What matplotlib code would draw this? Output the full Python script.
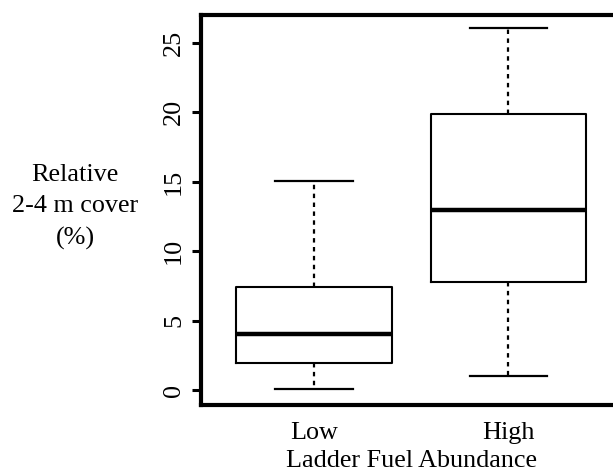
import matplotlib
matplotlib.use("Agg")
import matplotlib.pyplot as plt

categories = ["Low", "High"]
whislo = [0.07, 1.0]
q1 = [1.95, 7.75]
med = [4.0, 12.95]
q3 = [7.45, 19.9]
whishi = [15.05, 26.05]
yticks = [0, 5, 10, 15, 20, 25]

plt.rcParams['font.family'] = ['Liberation Serif', 'DejaVu Serif']

W, H = 613, 472
fig = plt.figure(figsize=(W / 100, H / 100), dpi=100)

# axes placement in pixels
x0p, x1p = 201.0, 621.3
ytop_p, ybot_p = 15.2, 405.3
ax = fig.add_axes([x0p / W, 1 - ybot_p / H, (x1p - x0p) / W, (ybot_p - ytop_p) / H])

stats = []
for i, c in enumerate(categories):
    stats.append(dict(label=c, whislo=whislo[i], q1=q1[i], med=med[i],
                      q3=q3[i], whishi=whishi[i], fliers=[]))

ax.bxp(stats, positions=[1, 2], widths=0.8, showfliers=False,
       boxprops=dict(color='black', linewidth=1.5),
       medianprops=dict(color='black', linewidth=3.2, solid_capstyle='butt'),
       whiskerprops=dict(color='black', linewidth=1.6, linestyle=(0, (2, 2))),
       capprops=dict(color='black', linewidth=1.6),
       capwidths=0.4)

ax.set_xlim(0.42, 2.58)
ax.set_ylim(-1.1, 27.0)

for s in ['left', 'top', 'bottom']:
    ax.spines[s].set_linewidth(3.0)
ax.spines['right'].set_visible(False)

FS = 18.8
ax.set_yticks(yticks)
ax.set_yticklabels([str(t) for t in yticks], rotation=90, va='center', fontsize=FS)
ax.tick_params(axis='y', length=6.5, width=2.2, pad=5)
ax.set_xticks([1, 2])
ax.set_xticklabels(categories, fontsize=FS)
ax.tick_params(axis='x', length=0, pad=12)

ax.set_xlabel("Ladder Fuel Abundance", fontsize=FS, labelpad=4.5)

fig.text(75 / W, 1 - 207 / H, "Relative\n2-4 m cover\n(%)", ha='center', va='center',
         fontsize=FS, linespacing=1.55)

fig.savefig("out.png", dpi=100)
